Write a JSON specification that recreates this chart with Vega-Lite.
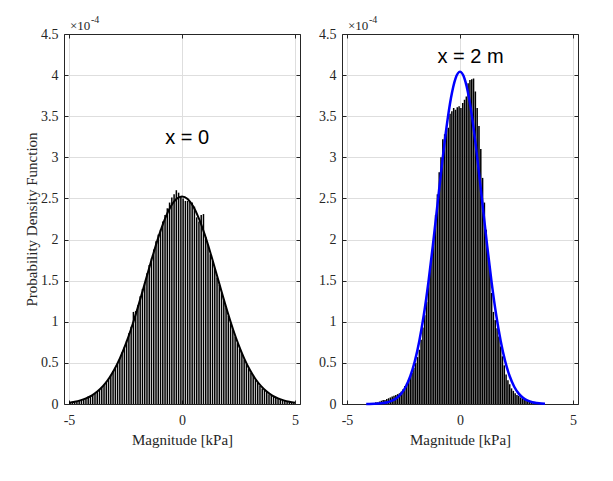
{
  "$schema": "https://vega.github.io/schema/vega-lite/v6.json",
  "padding": {"left": 24, "top": 15, "right": 5, "bottom": 5},
  "background": "white",
  "bounds": "flush",
  "spacing": 42,
  "config": {
    "view": {"stroke": null},
    "axis": {"domainColor": "#262626", "domainWidth": 1, "tickColor": "#262626", "tickSize": -4, "tickWidth": 1, "labelColor": "#262626", "labelFont": "Liberation Serif", "labelFontSize": 14, "titleFont": "Liberation Serif", "titleFontSize": 15, "titleFontWeight": "normal", "titleColor": "#262626", "gridColor": "#dedede", "gridWidth": 1, "labelFlush": false, "labelOverlap": false},
    "axisX": {"labelPadding": 13, "titlePadding": 5},
    "axisY": {"labelPadding": 10, "titlePadding": 1}
  },
  "datasets": {
    "histL": [
      {"x": -4.95, "y": 0.02}, {"x": -4.85, "y": 0.03}, {"x": -4.75, "y": 0.03}, {"x": -4.65, "y": 0.03}, {"x": -4.55, "y": 0.05},
      {"x": -4.45, "y": 0.05}, {"x": -4.35, "y": 0.06}, {"x": -4.25, "y": 0.07}, {"x": -4.15, "y": 0.09}, {"x": -4.05, "y": 0.10},
      {"x": -3.95, "y": 0.11}, {"x": -3.85, "y": 0.13}, {"x": -3.75, "y": 0.15}, {"x": -3.65, "y": 0.17}, {"x": -3.55, "y": 0.20},
      {"x": -3.45, "y": 0.23}, {"x": -3.35, "y": 0.27}, {"x": -3.25, "y": 0.31}, {"x": -3.15, "y": 0.34}, {"x": -3.05, "y": 0.40},
      {"x": -2.95, "y": 0.44}, {"x": -2.85, "y": 0.50}, {"x": -2.75, "y": 0.56}, {"x": -2.65, "y": 0.63}, {"x": -2.55, "y": 0.69},
      {"x": -2.45, "y": 0.77}, {"x": -2.35, "y": 0.86}, {"x": -2.25, "y": 0.94}, {"x": -2.15, "y": 1.12}, {"x": -2.05, "y": 1.13},
      {"x": -1.95, "y": 1.20}, {"x": -1.85, "y": 1.31}, {"x": -1.75, "y": 1.40}, {"x": -1.65, "y": 1.47}, {"x": -1.55, "y": 1.59},
      {"x": -1.45, "y": 1.69}, {"x": -1.35, "y": 1.77}, {"x": -1.25, "y": 1.88}, {"x": -1.15, "y": 1.98}, {"x": -1.05, "y": 2.06},
      {"x": -0.95, "y": 2.12}, {"x": -0.85, "y": 2.22}, {"x": -0.75, "y": 2.30}, {"x": -0.65, "y": 2.38}, {"x": -0.55, "y": 2.45},
      {"x": -0.45, "y": 2.51}, {"x": -0.35, "y": 2.55}, {"x": -0.25, "y": 2.60}, {"x": -0.15, "y": 2.57}, {"x": -0.05, "y": 2.53},
      {"x": 0.05, "y": 2.50}, {"x": 0.15, "y": 2.47}, {"x": 0.25, "y": 2.47}, {"x": 0.35, "y": 2.46}, {"x": 0.45, "y": 2.45},
      {"x": 0.55, "y": 2.40}, {"x": 0.65, "y": 2.27}, {"x": 0.75, "y": 2.22}, {"x": 0.85, "y": 2.30}, {"x": 0.95, "y": 2.31},
      {"x": 1.05, "y": 2.03}, {"x": 1.15, "y": 1.94}, {"x": 1.25, "y": 1.82}, {"x": 1.35, "y": 1.74}, {"x": 1.45, "y": 1.65},
      {"x": 1.55, "y": 1.54}, {"x": 1.65, "y": 1.45}, {"x": 1.75, "y": 1.35}, {"x": 1.85, "y": 1.26}, {"x": 1.95, "y": 1.17},
      {"x": 2.05, "y": 1.07}, {"x": 2.15, "y": 0.98}, {"x": 2.25, "y": 0.90}, {"x": 2.35, "y": 0.82}, {"x": 2.45, "y": 0.74},
      {"x": 2.55, "y": 0.67}, {"x": 2.65, "y": 0.61}, {"x": 2.75, "y": 0.54}, {"x": 2.85, "y": 0.49}, {"x": 2.95, "y": 0.43},
      {"x": 3.05, "y": 0.38}, {"x": 3.15, "y": 0.34}, {"x": 3.25, "y": 0.30}, {"x": 3.35, "y": 0.26}, {"x": 3.45, "y": 0.22},
      {"x": 3.55, "y": 0.19}, {"x": 3.65, "y": 0.17}, {"x": 3.75, "y": 0.15}, {"x": 3.85, "y": 0.12}, {"x": 3.95, "y": 0.11},
      {"x": 4.05, "y": 0.09}, {"x": 4.15, "y": 0.08}, {"x": 4.25, "y": 0.07}, {"x": 4.35, "y": 0.05}, {"x": 4.45, "y": 0.05},
      {"x": 4.55, "y": 0.04}, {"x": 4.65, "y": 0.03}, {"x": 4.75, "y": 0.03}, {"x": 4.85, "y": 0.02}, {"x": 4.95, "y": 0.02}
    ],
    "curveL": [
      {"x": -5, "y": 0.0168}, {"x": -4.75, "y": 0.027}, {"x": -4.5, "y": 0.0436}, {"x": -4.25, "y": 0.068}, {"x": -4, "y": 0.102},
      {"x": -3.75, "y": 0.151}, {"x": -3.5, "y": 0.217}, {"x": -3.25, "y": 0.304}, {"x": -3, "y": 0.416}, {"x": -2.75, "y": 0.555},
      {"x": -2.5, "y": 0.722}, {"x": -2.25, "y": 0.915}, {"x": -2, "y": 1.133}, {"x": -1.75, "y": 1.367}, {"x": -1.5, "y": 1.609},
      {"x": -1.25, "y": 1.846}, {"x": -1, "y": 2.066}, {"x": -0.75, "y": 2.256}, {"x": -0.5, "y": 2.402}, {"x": -0.25, "y": 2.494},
      {"x": 0, "y": 2.525},
      {"x": 0.25, "y": 2.494}, {"x": 0.5, "y": 2.402}, {"x": 0.75, "y": 2.256}, {"x": 1, "y": 2.066}, {"x": 1.25, "y": 1.846},
      {"x": 1.5, "y": 1.609}, {"x": 1.75, "y": 1.367}, {"x": 2, "y": 1.133}, {"x": 2.25, "y": 0.915}, {"x": 2.5, "y": 0.722},
      {"x": 2.75, "y": 0.555}, {"x": 3, "y": 0.416}, {"x": 3.25, "y": 0.304}, {"x": 3.5, "y": 0.217}, {"x": 3.75, "y": 0.151},
      {"x": 4, "y": 0.102}, {"x": 4.25, "y": 0.068}, {"x": 4.5, "y": 0.0436}, {"x": 4.75, "y": 0.027}, {"x": 5, "y": 0.0168}
    ],
    "histR": [
      {"x": -3.80, "y": 0.01}, {"x": -3.72, "y": 0.02}, {"x": -3.64, "y": 0.02}, {"x": -3.56, "y": 0.03}, {"x": -3.48, "y": 0.04},
      {"x": -3.40, "y": 0.05}, {"x": -3.32, "y": 0.05}, {"x": -3.24, "y": 0.06}, {"x": -3.16, "y": 0.07}, {"x": -3.08, "y": 0.08},
      {"x": -3.00, "y": 0.09}, {"x": -2.92, "y": 0.10}, {"x": -2.84, "y": 0.11}, {"x": -2.76, "y": 0.12}, {"x": -2.68, "y": 0.13},
      {"x": -2.60, "y": 0.15}, {"x": -2.52, "y": 0.18}, {"x": -2.44, "y": 0.22}, {"x": -2.36, "y": 0.25}, {"x": -2.28, "y": 0.29},
      {"x": -2.20, "y": 0.34}, {"x": -2.12, "y": 0.38}, {"x": -2.04, "y": 0.44}, {"x": -1.96, "y": 0.50}, {"x": -1.88, "y": 0.57},
      {"x": -1.80, "y": 0.66}, {"x": -1.72, "y": 0.78}, {"x": -1.64, "y": 0.93}, {"x": -1.56, "y": 1.08}, {"x": -1.48, "y": 1.24},
      {"x": -1.40, "y": 1.42}, {"x": -1.32, "y": 1.62}, {"x": -1.24, "y": 1.84}, {"x": -1.16, "y": 2.05}, {"x": -1.08, "y": 2.30},
      {"x": -1.00, "y": 2.55}, {"x": -0.92, "y": 2.82}, {"x": -0.84, "y": 3.00}, {"x": -0.76, "y": 3.22}, {"x": -0.68, "y": 3.28},
      {"x": -0.60, "y": 3.33}, {"x": -0.52, "y": 3.36}, {"x": -0.44, "y": 3.53}, {"x": -0.36, "y": 3.56}, {"x": -0.28, "y": 3.60},
      {"x": -0.20, "y": 3.58}, {"x": -0.12, "y": 3.61}, {"x": -0.04, "y": 3.62}, {"x": 0.04, "y": 3.60}, {"x": 0.12, "y": 3.66},
      {"x": 0.20, "y": 3.70}, {"x": 0.28, "y": 3.74}, {"x": 0.36, "y": 3.90}, {"x": 0.44, "y": 3.94}, {"x": 0.52, "y": 3.95},
      {"x": 0.60, "y": 3.96}, {"x": 0.68, "y": 3.80}, {"x": 0.76, "y": 3.60}, {"x": 0.84, "y": 3.38}, {"x": 0.92, "y": 3.10},
      {"x": 1.00, "y": 2.75}, {"x": 1.08, "y": 2.45}, {"x": 1.16, "y": 2.12}, {"x": 1.24, "y": 1.85}, {"x": 1.32, "y": 1.62},
      {"x": 1.40, "y": 1.35}, {"x": 1.48, "y": 1.12}, {"x": 1.56, "y": 1.02}, {"x": 1.64, "y": 0.92}, {"x": 1.72, "y": 0.82},
      {"x": 1.80, "y": 0.70}, {"x": 1.88, "y": 0.58}, {"x": 1.96, "y": 0.47}, {"x": 2.04, "y": 0.36}, {"x": 2.12, "y": 0.29},
      {"x": 2.20, "y": 0.24}, {"x": 2.28, "y": 0.19}, {"x": 2.36, "y": 0.16}, {"x": 2.44, "y": 0.13}, {"x": 2.52, "y": 0.11},
      {"x": 2.60, "y": 0.10}, {"x": 2.68, "y": 0.08}, {"x": 2.76, "y": 0.07}, {"x": 2.84, "y": 0.06}, {"x": 2.92, "y": 0.05},
      {"x": 3.00, "y": 0.04}, {"x": 3.08, "y": 0.035}, {"x": 3.16, "y": 0.03}, {"x": 3.24, "y": 0.025}, {"x": 3.32, "y": 0.02},
      {"x": 3.40, "y": 0.015}, {"x": 3.48, "y": 0.01}, {"x": 3.56, "y": 0.01}, {"x": 3.64, "y": 0.005}
    ],
    "curveR": [
      {"x": -4.15, "y": 0.0006}, {"x": -4.0, "y": 0.001}, {"x": -3.8, "y": 0.0024}, {"x": -3.6, "y": 0.005}, {"x": -3.4, "y": 0.011},
      {"x": -3.2, "y": 0.021}, {"x": -3.0, "y": 0.040}, {"x": -2.8, "y": 0.072}, {"x": -2.6, "y": 0.126}, {"x": -2.4, "y": 0.210},
      {"x": -2.2, "y": 0.337}, {"x": -2.0, "y": 0.518}, {"x": -1.8, "y": 0.766}, {"x": -1.6, "y": 1.086}, {"x": -1.4, "y": 1.477},
      {"x": -1.2, "y": 1.929}, {"x": -1.0, "y": 2.418}, {"x": -0.8, "y": 2.909}, {"x": -0.6, "y": 3.358}, {"x": -0.4, "y": 3.721},
      {"x": -0.2, "y": 3.958}, {"x": 0, "y": 4.040}, {"x": 0.2, "y": 3.958}, {"x": 0.4, "y": 3.721}, {"x": 0.6, "y": 3.358},
      {"x": 0.8, "y": 2.909}, {"x": 1.0, "y": 2.418}, {"x": 1.2, "y": 1.929}, {"x": 1.4, "y": 1.477}, {"x": 1.6, "y": 1.086},
      {"x": 1.8, "y": 0.766}, {"x": 2.0, "y": 0.518}, {"x": 2.2, "y": 0.337}, {"x": 2.4, "y": 0.210}, {"x": 2.6, "y": 0.126},
      {"x": 2.8, "y": 0.072}, {"x": 3.0, "y": 0.040}, {"x": 3.2, "y": 0.021}, {"x": 3.4, "y": 0.011}, {"x": 3.6, "y": 0.005},
      {"x": 3.76, "y": 0.003}
    ]
  },
  "hconcat": [
    {
      "width": 236, "height": 370,
      "resolve": {"axis": {"x": "independent", "y": "independent"}},
      "layer": [
        {
          "data": {"name": "histL"},
          "mark": {"type": "bar", "size": 1.5, "color": "black"},
          "encoding": {
            "x": {"field": "x", "type": "quantitative", "scale": {"domain": [-5, 5], "nice": false, "zero": false}, "axis": null},
            "y": {"field": "y", "type": "quantitative", "stack": null, "scale": {"domain": [0, 4.5], "nice": false}, "axis": null}
          }
        },
        {
          "data": {"name": "curveL"},
          "mark": {"type": "line", "color": "black", "strokeWidth": 2, "interpolate": "monotone"},
          "encoding": {
            "x": {"field": "x", "type": "quantitative", "axis": {"orient": "bottom", "values": [-5, 0, 5], "grid": true, "title": "Magnitude [kPa]", "labelExpr": "datum.value + ''", "zindex": 0}},
            "y": {"field": "y", "type": "quantitative", "axis": {"orient": "left", "values": [0, 0.5, 1, 1.5, 2, 2.5, 3, 3.5, 4, 4.5], "grid": true, "title": "Probability Density Function", "labelExpr": "datum.value + ''", "zindex": 0}}
          }
        },
        {
          "data": {"values": [{"x": 0.23, "y": 3.23, "t": "x = 0"}]},
          "mark": {"type": "text", "font": "Liberation Sans", "fontSize": 20, "align": "center", "baseline": "middle", "color": "black"},
          "encoding": {
            "x": {"field": "x", "type": "quantitative", "axis": {"orient": "top", "values": [-5, 0, 5], "grid": false, "labels": false, "title": null, "zindex": 1}},
            "y": {"field": "y", "type": "quantitative", "axis": {"orient": "right", "values": [0, 0.5, 1, 1.5, 2, 2.5, 3, 3.5, 4, 4.5], "grid": false, "labels": false, "title": null, "zindex": 1}},
            "text": {"field": "t"}
          }
        },
        {
          "data": {"values": [{"x": -5, "y": 4.5, "t": "×10"}]},
          "mark": {"type": "text", "font": "Liberation Serif", "fontSize": 13, "align": "left", "baseline": "alphabetic", "dx": 1, "dy": -4, "color": "#262626"},
          "encoding": {
            "x": {"field": "x", "type": "quantitative", "axis": null},
            "y": {"field": "y", "type": "quantitative", "axis": null},
            "text": {"field": "t"}
          }
        },
        {
          "data": {"values": [{"x": -5, "y": 4.5, "t": "-4"}]},
          "mark": {"type": "text", "font": "Liberation Serif", "fontSize": 10, "align": "left", "baseline": "alphabetic", "dx": 22, "dy": -11, "color": "#262626"},
          "encoding": {
            "x": {"field": "x", "type": "quantitative", "axis": null},
            "y": {"field": "y", "type": "quantitative", "axis": null},
            "text": {"field": "t"}
          }
        }
      ]
    },
    {
      "width": 236, "height": 370,
      "resolve": {"axis": {"x": "independent", "y": "independent"}},
      "layer": [
        {
          "data": {"name": "histR"},
          "mark": {"type": "bar", "size": 1.5, "color": "black"},
          "encoding": {
            "x": {"field": "x", "type": "quantitative", "scale": {"domain": [-5, 5], "nice": false, "zero": false}, "axis": null},
            "y": {"field": "y", "type": "quantitative", "stack": null, "scale": {"domain": [0, 4.5], "nice": false}, "axis": null}
          }
        },
        {
          "data": {"name": "curveR"},
          "mark": {"type": "line", "color": "#0000ff", "strokeWidth": 2.5, "interpolate": "monotone"},
          "encoding": {
            "x": {"field": "x", "type": "quantitative", "axis": {"orient": "bottom", "values": [-5, 0, 5], "grid": true, "title": "Magnitude [kPa]", "labelExpr": "datum.value + ''", "zindex": 0}},
            "y": {"field": "y", "type": "quantitative", "axis": {"orient": "left", "values": [0, 0.5, 1, 1.5, 2, 2.5, 3, 3.5, 4, 4.5], "grid": true, "title": null, "labelExpr": "datum.value + ''", "zindex": 0}}
          }
        },
        {
          "data": {"values": [{"x": 0.47, "y": 4.22, "t": "x = 2 m"}]},
          "mark": {"type": "text", "font": "Liberation Sans", "fontSize": 20, "align": "center", "baseline": "middle", "color": "black"},
          "encoding": {
            "x": {"field": "x", "type": "quantitative", "axis": {"orient": "top", "values": [-5, 0, 5], "grid": false, "labels": false, "title": null, "zindex": 1}},
            "y": {"field": "y", "type": "quantitative", "axis": {"orient": "right", "values": [0, 0.5, 1, 1.5, 2, 2.5, 3, 3.5, 4, 4.5], "grid": false, "labels": false, "title": null, "zindex": 1}},
            "text": {"field": "t"}
          }
        },
        {
          "data": {"values": [{"x": -5, "y": 4.5, "t": "×10"}]},
          "mark": {"type": "text", "font": "Liberation Serif", "fontSize": 13, "align": "left", "baseline": "alphabetic", "dx": 1, "dy": -4, "color": "#262626"},
          "encoding": {
            "x": {"field": "x", "type": "quantitative", "axis": null},
            "y": {"field": "y", "type": "quantitative", "axis": null},
            "text": {"field": "t"}
          }
        },
        {
          "data": {"values": [{"x": -5, "y": 4.5, "t": "-4"}]},
          "mark": {"type": "text", "font": "Liberation Serif", "fontSize": 10, "align": "left", "baseline": "alphabetic", "dx": 22, "dy": -11, "color": "#262626"},
          "encoding": {
            "x": {"field": "x", "type": "quantitative", "axis": null},
            "y": {"field": "y", "type": "quantitative", "axis": null},
            "text": {"field": "t"}
          }
        }
      ]
    }
  ]
}
